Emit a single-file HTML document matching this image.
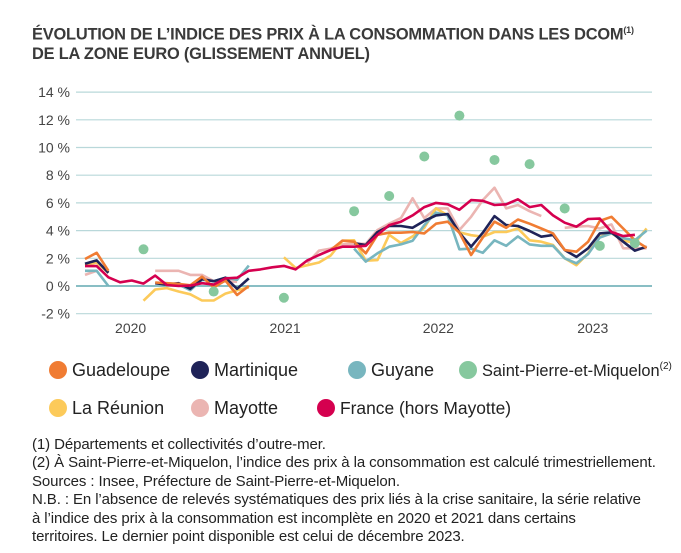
<!DOCTYPE html>
<html><head><meta charset="utf-8">
<style>
body{margin:0;background:#fff;}
#wrap{position:relative;width:681px;height:553px;overflow:hidden;font-family:"Liberation Sans",sans-serif;color:#333;}
.title{position:absolute;left:32px;top:20px;font-size:16.4px;font-weight:bold;line-height:20px;color:#3a3a3a;letter-spacing:-0.2px;}
.notes{position:absolute;left:32px;top:436px;font-size:15px;line-height:18.4px;color:#222;letter-spacing:-0.1px;}
sup{font-size:9px;}
</style></head>
<body>
<div id="wrap">
<div class="title">ÉVOLUTION DE L’INDICE DES PRIX À LA CONSOMMATION DANS LES DCOM<sup>(1)</sup><br>DE LA ZONE EURO (GLISSEMENT ANNUEL)</div>
<svg id="chart" width="681" height="430" style="position:absolute;left:0;top:0"></svg>
<div class="notes">(1) Départements et collectivités d’outre-mer.<br>(2) À Saint-Pierre-et-Miquelon, l’indice des prix à la consommation est calculé trimestriellement.<br>Sources : Insee, Préfecture de Saint-Pierre-et-Miquelon.<br>N.B. : En l’absence de relevés systématiques des prix liés à la crise sanitaire, la série relative<br>à l’indice des prix à la consommation est incomplète en 2020 et 2021 dans certains<br>territoires. Le dernier point disponible est celui de décembre 2023.</div>
</div>
<script>
const yTicks=[-2,0,2,4,6,8,10,12,14];
const yTickLabels=["-2 %","0 %","2 %","4 %","6 %","8 %","10 %","12 %","14 %"];
const yearLabels=["2020","2021","2022","2023"];
const yearPos=[3.9,17.1,30.2,43.4];
const N=null;
const guadeloupe=[1.95,2.4,1.1,N,N,N,0.25,0.2,0.15,0.05,0.67,-0.1,0.4,-0.65,0.0,N,N,N,N,N,N,2.6,3.27,3.2,2.36,3.7,3.85,3.85,3.9,3.8,4.5,4.64,3.85,2.24,3.5,4.64,4.2,4.8,4.5,4.15,3.8,2.6,2.48,3.2,4.7,5.0,4.15,3.3,2.75];
const martinique=[1.6,1.85,0.95,N,N,N,0.2,0.1,0.2,-0.2,0.5,0.35,0.6,-0.2,0.55,N,N,N,N,N,N,N,N,3.1,2.96,3.9,4.33,4.33,4.2,4.7,5.1,5.2,3.85,2.84,3.85,5.05,4.4,4.33,3.97,3.56,3.68,2.6,2.1,2.72,3.8,3.87,3.2,2.55,2.84];
const guyane=[1.1,1.1,0.0,N,N,N,N,N,0.1,-0.3,0.45,0.35,0.6,0.45,1.47,N,N,N,N,N,N,N,N,2.7,1.76,2.36,2.84,3.0,3.27,4.4,5.3,5.1,2.65,2.7,2.4,3.3,2.9,3.58,3.0,2.9,2.9,2.0,1.64,2.3,3.5,3.8,3.45,3.3,4.0];
const reunion=[1.5,1.7,0.95,N,N,-1.06,-0.25,-0.15,-0.4,-0.6,-1.05,-1.05,-0.55,-0.3,-0.1,N,N,2.07,1.3,1.5,1.7,2.2,3.27,3.3,1.83,1.87,3.7,3.1,3.58,4.2,5.6,5.1,3.87,3.67,3.55,3.9,3.9,4.15,3.3,3.2,2.96,2.0,1.5,2.36,3.55,3.8,3.3,3.1,4.15];
const mayotte=[0.8,1.1,N,N,N,N,1.1,1.1,1.1,0.8,0.8,0.35,0.35,0.3,N,N,N,N,N,1.65,2.55,2.7,3.0,3.05,3.05,4.04,4.5,4.9,6.33,4.9,5.6,5.6,4.04,5.0,6.2,7.1,5.6,5.85,5.4,5.05,N,4.2,4.28,4.33,4.15,4.45,2.72,2.72,2.72];
const france=[1.44,1.44,0.63,0.27,0.4,0.17,0.75,0.07,0,0.03,0.2,0.1,0.55,0.6,1.1,1.2,1.35,1.45,1.2,1.85,2.24,2.6,2.84,2.84,2.9,3.7,4.4,4.64,5.1,5.7,6.0,5.9,5.5,6.2,6.15,5.85,5.9,6.26,5.7,5.85,5.1,4.57,4.28,4.84,4.87,3.9,3.6,3.7];
const spmIdx=[5,11,17,23,26,29,32,35,38,41,44,47];
const spmVal=[2.65,-0.4,-0.85,5.4,6.5,9.35,12.3,9.1,8.8,5.6,2.9,3.1];
const legendNames=["Guadeloupe","Martinique","Guyane","Saint-Pierre-et-Miquelon","La Réunion","Mayotte","France (hors Mayotte)"];

const NS="http://www.w3.org/2000/svg";
const svg=document.getElementById('chart');
const X=i=>85+i*11.7;
const Y=v=>286-v*13.85;
function mk(t,a){const e=document.createElementNS(NS,t);for(const k in a)e.setAttribute(k,a[k]);svg.appendChild(e);return e;}
yTicks.forEach((t,k)=>{
  const l=mk('line',{x1:76,x2:652,y1:Y(t),y2:Y(t),stroke:t===0?'#62a9b0':'#b9d8da','stroke-width':t===0?1.6:1.2});
  
  
  const tx=mk('text',{x:70,y:Y(t)+5,'text-anchor':'end','font-size':14,fill:'#444','font-family':'Liberation Sans, sans-serif'});
  tx.textContent=yTickLabels[k];
  
  
});
yearLabels.forEach((y,k)=>{
  const tx=mk('text',{x:X(yearPos[k]),y:333,'text-anchor':'middle','font-size':14,fill:'#444','font-family':'Liberation Sans, sans-serif'});
  tx.textContent=y;
  
  
});
function series(arr,color,name,w){
  let d='',pen=false;
  arr.forEach((v,i)=>{if(v===null){pen=false;return;}d+=(pen?'L':'M')+X(i).toFixed(1)+' '+Y(v).toFixed(1);pen=true;});
  const p=mk('path',{d:d,fill:'none',stroke:color,'stroke-width':w||2.6,'stroke-linejoin':'round'});
  
  
}
series(mayotte,'#ebb5b2','line-mayotte');
series(reunion,'#fcca5a','line-la-reunion');
series(guyane,'#78b6bf','line-guyane');
series(martinique,'#1f2358','line-martinique');
series(guadeloupe,'#f07c33','line-guadeloupe');
series(france,'#d5004f','line-france');
spmIdx.forEach((ix,k)=>{
  const c=mk('circle',{cx:X(ix),cy:Y(spmVal[k]),r:5,fill:'#86c89e'});
  
  
});
const legColors=['#f07c33','#1f2358','#78b6bf','#86c89e','#fcca5a','#ebb5b2','#d5004f'];
const legX=[58,200,357,468,58,200,326];
const legY=[370,370,370,370,408,408,408];
const legSize=[18,18,18,16.4,18,18,17.4];
legendNames.forEach((n,k)=>{
  const c=mk('circle',{cx:legX[k],cy:legY[k],r:9,fill:legColors[k]});
  
  
  const t=mk('text',{x:legX[k]+14,y:legY[k]+6,'font-size':legSize[k],fill:'#222','font-family':'Liberation Sans, sans-serif'});
  t.textContent=n;
  
  
  if(k===3){const s=document.createElementNS(NS,'tspan');s.setAttribute('font-size',10);s.setAttribute('dy',-7);s.textContent='(2)';t.appendChild(s);}
});
</script>
</body></html>
